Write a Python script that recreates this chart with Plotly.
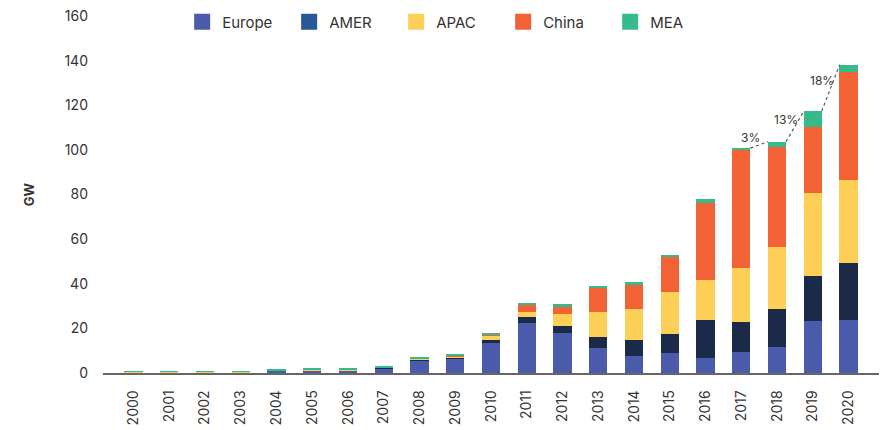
import plotly.graph_objects as go

# Annual solar PV installations by region (GW)
years = [str(y) for y in range(2000, 2021)]
europe = [0.1, 0.15, 0.15, 0.25, 0.9, 1.0, 1.1, 2.0, 5.5, 6.5, 13.3, 22.3, 17.8, 11.2, 7.4,
          8.8, 6.9, 9.3, 11.5, 23.3, 23.8]
amer = [0.05, 0.05, 0.05, 0.07, 0.1, 0.12, 0.15, 0.25, 0.4, 0.6, 1.5, 2.7, 3.4, 4.9, 7.2,
        8.7, 16.9, 13.7, 17.0, 20.2, 25.7]
apac = [0.5, 0.5, 0.5, 0.3, 0.3, 0.4, 0.35, 0.3, 0.6, 0.5, 1.9, 2.5, 5.3, 11.1, 14.1,
        19.0, 17.9, 23.9, 28.1, 37.1, 37.0]
china = [0.01, 0.01, 0.01, 0.01, 0.02, 0.03, 0.05, 0.1, 0.2, 0.4, 0.6, 3.0, 3.5, 11.2, 10.8,
         15.7, 34.4, 52.9, 44.6, 29.8, 48.2]
mea = [0.15, 0.12, 0.12, 0.18, 0.15, 0.33, 0.3, 0.15, 0.4, 0.4, 0.7, 0.8, 0.8, 0.6, 1.2,
       0.7, 1.9, 1.0, 2.5, 7.0, 3.5]

series_names = ["Europe", "AMER", "APAC", "China", "MEA"]
series_values = [europe, amer, apac, china, mea]
bar_colors = ["#4a5bab", "#1b2a48", "#fdcf57", "#f26235", "#36b98b"]
legend_colors = ["#4a5bab", "#2a5797", "#fdcf57", "#f26235", "#36b98b"]

totals = [round(sum(v), 1) for v in zip(*series_values)]

FONT = "Inter, Roboto, sans-serif"
TXT = "#333333"

fig = go.Figure()

for name, vals, col in zip(series_names, series_values, bar_colors):
    fig.add_trace(go.Bar(x=years, y=vals, name=name, marker_color=col,
                         marker_line_width=0, showlegend=False))

# legend swatches
for name, col in zip(series_names, legend_colors):
    fig.add_trace(go.Scatter(x=[None], y=[None], mode="markers", name=name,
                             marker=dict(symbol="square", size=16, color=col)))

# dotted growth connectors for the last four years
growth_from = 17  # index of 2017
for i in range(growth_from, len(years) - 1):
    x0 = i + 0.25
    x1 = i + 1 - 0.25
    fig.add_trace(go.Scatter(x=[x0, x1], y=[totals[i], totals[i + 1]], mode="lines",
                             line=dict(color="#555555", width=1.2, dash="dot"),
                             xaxis="x2", showlegend=False, hoverinfo="skip"))
    pct = (totals[i + 1] / totals[i] - 1) * 100
    fig.add_annotation(x=(x0 + x1) / 2, y=(totals[i] + totals[i + 1]) / 2,
                       xref="x2", yref="y", text=f"{pct:.0f}%", showarrow=False,
                       xshift=-9, yshift=7, font=dict(family=FONT, size=12, color=TXT))

fig.add_annotation(x=years[-1], y=totals[-1], text=f"{totals[-1]:.1f}", showarrow=False,
                   yanchor="bottom", yshift=3,
                   font=dict(family=FONT, size=15, color="#222222"))

fig.update_layout(
    width=883, height=430,
    margin=dict(l=103, r=4, t=16, b=57),
    paper_bgcolor="white", plot_bgcolor="white",
    barmode="stack", bargap=0.49,
    font=dict(family=FONT, size=14, color=TXT),
    legend=dict(orientation="h", traceorder="normal",
                x=0.102, xanchor="left", y=0.983, yanchor="middle",
                entrywidth=62, entrywidthmode="pixels",
                font=dict(family=FONT, size=15, color=TXT), bgcolor="rgba(0,0,0,0)"),
    xaxis=dict(type="category", range=[-0.85, 20.85], tickangle=-90,
               showline=True, linecolor="#666666", linewidth=1.5,
               showgrid=False, ticks="", ticklabelstandoff=10,
               tickfont=dict(family=FONT, size=14, color=TXT)),
    xaxis2=dict(range=[-0.85, 20.85], overlaying="x", visible=False),
    yaxis=dict(range=[0, 160], tickvals=list(range(0, 161, 20)), showgrid=False,
               zeroline=False, showline=False, ticks="", ticklabelstandoff=14,
               tickfont=dict(family=FONT, size=14, color=TXT),
               title=dict(text="<b>GW</b>", standoff=26,
                          font=dict(family=FONT, size=13, color=TXT))),
)

fig.write_html("out.html")
